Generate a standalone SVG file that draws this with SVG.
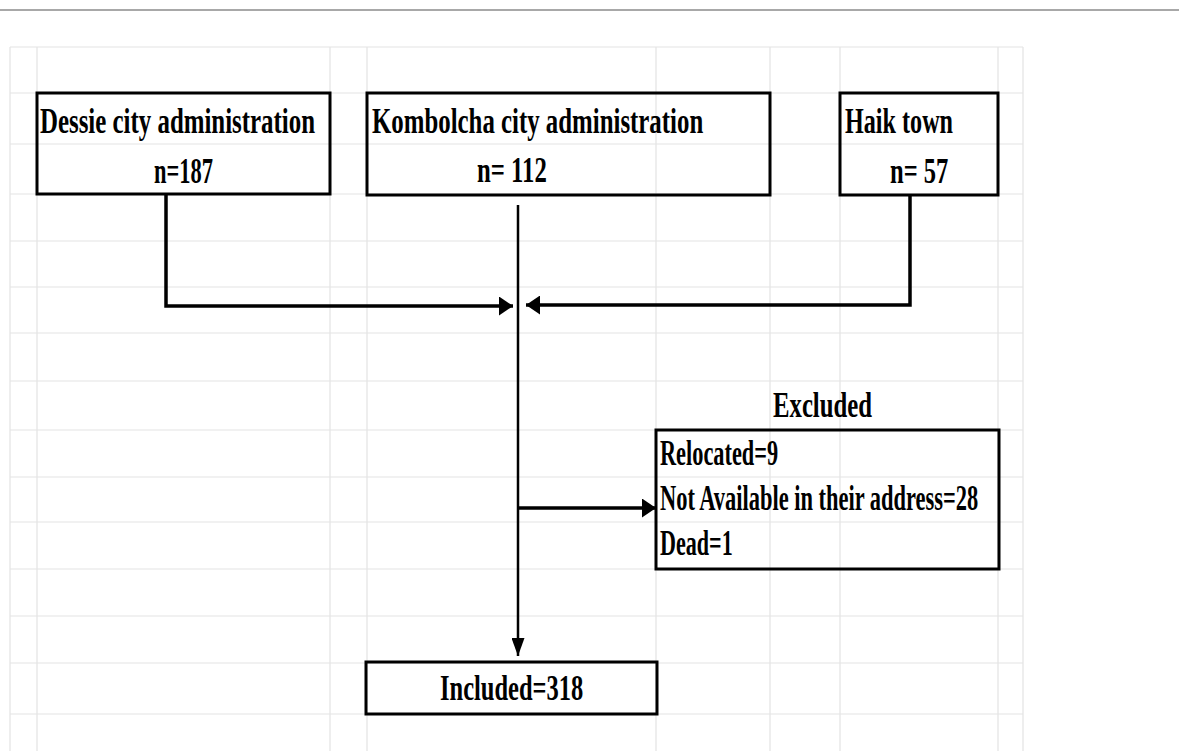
<svg xmlns="http://www.w3.org/2000/svg" width="1179" height="751" viewBox="0 0 1179 751">
<style>
.grid line{stroke:#e3e3e3;stroke-width:1.2}
.box{fill:none;stroke:#000;stroke-width:3}
.t{font-family:"Liberation Serif","Times New Roman",serif;font-weight:bold;font-size:35px;fill:#000}
.conn{fill:none;stroke:#000;stroke-width:3.5}
.thin{fill:none;stroke:#000;stroke-width:2.5}
</style>
<defs>
<marker id="ah" markerUnits="userSpaceOnUse" markerWidth="15" markerHeight="19" refX="14" refY="9.5" orient="auto" viewBox="0 0 15 19">
<path d="M0,0 L14,9.5 L0,19 z" fill="#000"/>
</marker>
<marker id="ahd" markerUnits="userSpaceOnUse" markerWidth="19" markerHeight="13" refX="18" refY="6.5" orient="auto" viewBox="0 0 19 13">
<path d="M0,0 L18,6.5 L0,13 z" fill="#000"/>
</marker>
</defs>
<rect x="0" y="0" width="1179" height="751" fill="#fff"/>
<line x1="0" y1="10" x2="1179" y2="10" stroke="#a8a8a8" stroke-width="2"/>
<g class="grid">
<line x1="10" y1="47" x2="10" y2="751"/>
<line x1="37" y1="47" x2="37" y2="751"/>
<line x1="330" y1="47" x2="330" y2="751"/>
<line x1="367" y1="47" x2="367" y2="751"/>
<line x1="656" y1="47" x2="656" y2="751"/>
<line x1="770" y1="47" x2="770" y2="751"/>
<line x1="840" y1="47" x2="840" y2="751"/>
<line x1="998" y1="47" x2="998" y2="751"/>
<line x1="1023" y1="47" x2="1023" y2="751"/>
<line x1="10" y1="47" x2="1023" y2="47"/>
<line x1="10" y1="93" x2="1023" y2="93"/>
<line x1="10" y1="144" x2="1023" y2="144"/>
<line x1="10" y1="194" x2="1023" y2="194"/>
<line x1="10" y1="241" x2="1023" y2="241"/>
<line x1="10" y1="287" x2="1023" y2="287"/>
<line x1="10" y1="333" x2="1023" y2="333"/>
<line x1="10" y1="381" x2="1023" y2="381"/>
<line x1="10" y1="430" x2="1023" y2="430"/>
<line x1="10" y1="477" x2="1023" y2="477"/>
<line x1="10" y1="522" x2="1023" y2="522"/>
<line x1="10" y1="569" x2="1023" y2="569"/>
<line x1="10" y1="616" x2="1023" y2="616"/>
<line x1="10" y1="663" x2="1023" y2="663"/>
<line x1="10" y1="714" x2="1023" y2="714"/>
</g>
<g id="connectors">
<path class="conn" d="M166,194 V306 H513" marker-end="url(#ah)"/>
<path class="conn" d="M910,195 V305 H526" marker-end="url(#ah)"/>
<path class="thin" d="M518,205 V656" marker-end="url(#ahd)"/>
<path class="conn" d="M519,508 H656" marker-end="url(#ah)"/>
</g>
<g id="dessie">
<rect class="box" x="37" y="93" width="293" height="101"/>
<text class="t" transform="translate(40,133) scale(0.72,1)" textLength="382" lengthAdjust="spacingAndGlyphs">Dessie city administration</text>
<text class="t" transform="translate(154,183) scale(0.72,1)" textLength="82" lengthAdjust="spacingAndGlyphs">n=187</text>
</g>
<g id="kombolcha">
<rect class="box" x="367" y="93" width="403" height="102"/>
<text class="t" transform="translate(372,133) scale(0.72,1)" textLength="460" lengthAdjust="spacingAndGlyphs">Kombolcha city administration</text>
<text class="t" transform="translate(477,182) scale(0.72,1)" textLength="97" lengthAdjust="spacingAndGlyphs">n= 112</text>
</g>
<g id="haik">
<rect class="box" x="840" y="93" width="158" height="102"/>
<text class="t" transform="translate(845,133) scale(0.72,1)" textLength="150" lengthAdjust="spacingAndGlyphs">Haik town</text>
<text class="t" transform="translate(890,183) scale(0.72,1)" textLength="81" lengthAdjust="spacingAndGlyphs">n= 57</text>
</g>
<g id="excluded">
<text class="t" transform="translate(773,417) scale(0.72,1)" textLength="137.5" lengthAdjust="spacingAndGlyphs">Excluded</text>
<rect class="box" x="656" y="430" width="343" height="139"/>
<text class="t" transform="translate(660,465) scale(0.72,1)" textLength="164" lengthAdjust="spacingAndGlyphs">Relocated=9</text>
<text class="t" transform="translate(660,510) scale(0.72,1)" textLength="442" lengthAdjust="spacingAndGlyphs">Not Available in their address=28</text>
<text class="t" transform="translate(660,555) scale(0.72,1)" textLength="101" lengthAdjust="spacingAndGlyphs">Dead=1</text>
</g>
<g id="included">
<rect class="box" x="366" y="662" width="291" height="52"/>
<text class="t" transform="translate(440,700) scale(0.72,1)" textLength="199" lengthAdjust="spacingAndGlyphs">Included=318</text>
</g>
</svg>
